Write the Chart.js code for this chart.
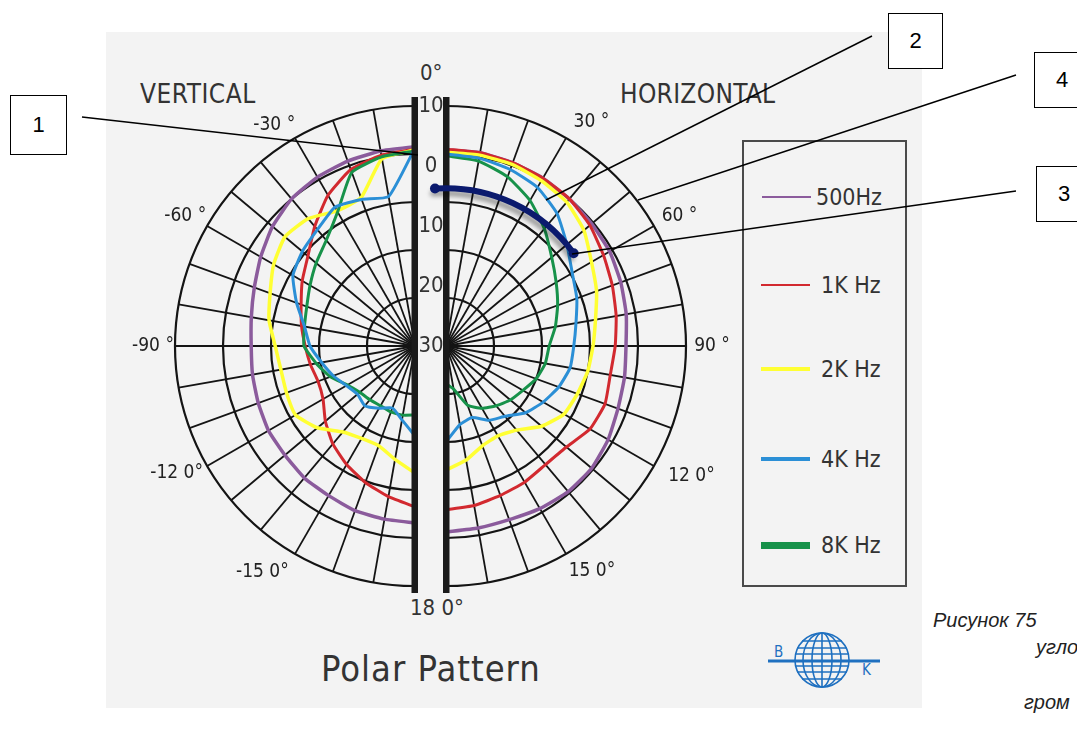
<!DOCTYPE html>
<html>
<head>
<meta charset="utf-8">
<script src="https://cdn.jsdelivr.net/npm/chart.js@4.4.1/dist/chart.umd.min.js"></script>
<style>
  body { margin: 0; width: 1077px; height: 731px; position: relative; overflow: hidden; background: #fff;
         font-family: 'Liberation Sans Narrow', 'DejaVu Sans Condensed', 'Arial Narrow', sans-serif; color: #333; }
  #panel { position: absolute; left: 106px; top: 32px; width: 816px; height: 676px; background: #f3f3f3; }
  .half { position: absolute; top: 0; height: 731px; overflow: hidden; }
  #leftHalf { left: 0; width: 418px; }
  #rightHalf { left: 443px; width: 634px; }
  .half canvas { position: absolute; top: 96px; }
  #overlay { position: absolute; left: 0; top: 0; pointer-events: none; }
  .txt { position: absolute; white-space: nowrap; line-height: 1; }
  .box { position: absolute; background: #fff; border: 1px solid #000; font-family: 'Liberation Sans', Arial, sans-serif;
         font-size: 22px; color: #000; display: flex; align-items: center; justify-content: center; box-sizing: border-box; }
  #legend { position: absolute; left: 742px; top: 140px; width: 165px; height: 447px; border: 2px solid #4a4a4a; box-sizing: border-box; }
  .caption { position: absolute; white-space: nowrap; font-family: 'Liberation Sans', Arial, sans-serif; font-style: italic; font-size: 20px; color: #222; }
</style>
</head>
<body>
<div id="panel"></div>

<div class="txt" style="left:140px; top:81px; font-size:26px; letter-spacing:0.5px;">VERTICAL</div>
<div class="txt" style="left:620px; top:81px; font-size:26px; letter-spacing:0.3px;">HORIZONTAL</div>
<div class="txt" style="left:420px; top:62px; font-size:22px;">0°</div>
<div class="txt" style="left:410px; top:597px; font-size:22px;">18 0°</div>
<div class="txt" style="left:321px; top:651px; font-size:36px; letter-spacing:1px;">Polar Pattern</div>

<div class="half" id="leftHalf"><canvas id="vertChart" width="500" height="500" style="left:165px"></canvas></div>
<div class="half" id="rightHalf"><canvas id="horzChart" width="500" height="500" style="left:-247px"></canvas></div>

<div id="legend"></div>

<svg style="position:absolute; left:764px; top:626px" width="122" height="70">
  <g stroke="#1f70c0" fill="none" stroke-width="1.6">
    <circle cx="58" cy="34" r="27"/>
    <ellipse cx="58" cy="34" rx="19" ry="27"/>
    <ellipse cx="58" cy="34" rx="10" ry="27"/>
    <line x1="58" y1="7" x2="58" y2="61"/>
    <line x1="38" y1="15" x2="78" y2="15"/>
    <line x1="33" y1="22" x2="83" y2="22"/>
    <line x1="31" y1="28" x2="85" y2="28"/>
    <line x1="31" y1="40" x2="85" y2="40"/>
    <line x1="33" y1="46" x2="83" y2="46"/>
    <line x1="38" y1="53" x2="78" y2="53"/>
    <line x1="4" y1="35" x2="116" y2="35" stroke-width="3"/>
  </g>
  <text x="10" y="31" fill="#1f70c0" font-family="DejaVu Sans Condensed, sans-serif" font-size="15">B</text>
  <text x="98" y="49" fill="#1f70c0" font-family="DejaVu Sans Condensed, sans-serif" font-size="15">K</text>
</svg>

<div class="box" style="left:10px; top:95px; width:57px; height:60px;">1</div>
<div class="box" style="left:888px; top:13px; width:55px; height:56px;">2</div>
<div class="box" style="left:1034px; top:52px; width:56px; height:56px;">4</div>
<div class="box" style="left:1036px; top:166px; width:56px; height:56px;">3</div>

<div class="caption" style="left:933px; top:609px;">Рисунок 75</div>
<div class="caption" style="left:1036px; top:636px;">угло</div>
<div class="caption" style="left:1024px; top:691px;">гром</div>

<canvas id="overlay" width="1077" height="731"></canvas>

<script>
// response angles, degrees from the front axis (0° up, 180° down)
const angles = [0, 10, 20, 30, 40, 50, 60, 70, 80, 90, 100, 110, 120, 130, 140, 150, 160, 170, 180];

const seriesNames = ['500Hz', '1K Hz', '2K Hz', '4K Hz', '8K Hz'];
const seriesColors = ['#8b5b9c', '#d2292f', '#ffff33', '#2b8fd6', '#17924a'];

// relative level in dB, horizontal plane (right half)
const horz500 = [2.7, 2.7, 2.5, 2.3, 2.0, 1.7, 1.5, 1.0, 0.5, 0.0, 0.2, 0.5, 1.2, 1.7, 1.7, 1.3, 0.8, 0.8, 1.0];
const horz1k  = [2.8, 2.7, 2.5, 2.3, 2.0, 1.3, 0.3, -0.5, -1.2, -1.8, -2.2, -1.8, -2.3, -3.8, -4.2, -3.8, -3.5, -3.0, -2.7];
const horz2k  = [2.3, 2.3, 2.2, 1.8, 1.3, 0.0, -2.0, -3.3, -4.7, -5.5, -6.0, -6.7, -7.3, -9.2, -11.7, -12.7, -12.3, -10.7, -9.3];
const horz4k  = [2.0, 1.8, 1.3, 0.5, -1.2, -3.7, -5.7, -6.8, -8.0, -8.7, -9.0, -10.0, -11.3, -12.7, -14.7, -15.7, -17.3, -16.7, -14.0];
const horz8k  = [1.7, 1.3, 0.0, -2.0, -4.5, -7.0, -8.8, -10.2, -11.5, -12.8, -13.2, -14.0, -15.2, -16.0, -17.0, -18.0, -19.5, -22.7, -23.7];

// relative level in dB, vertical plane (left half)
const vert500 = [3.2, 3.0, 2.8, 2.5, 2.0, 1.0, -0.3, -1.5, -2.3, -2.7, -2.5, -2.2, -1.8, -1.7, -1.3, -1.2, -0.8, -0.7, -0.5];
const vert1k  = [2.8, 2.3, 1.3, -1.0, -4.0, -6.7, -8.3, -9.8, -10.8, -11.7, -12.3, -12.8, -12.3, -10.5, -8.7, -7.2, -5.8, -4.5, -3.2];
const vert2k  = [2.7, 1.7, -3.7, -4.0, -2.3, -1.7, -2.8, -4.3, -5.3, -6.7, -7.3, -7.2, -7.0, -8.8, -11.3, -12.2, -12.3, -10.8, -8.8];
const vert4k  = [3.0, -4.7, -4.0, -3.3, -4.7, -5.5, -6.5, -9.0, -11.3, -12.5, -14.2, -15.5, -16.8, -17.5, -17.0, -18.0, -19.0, -17.5, -15.0];
const vert8k  = [2.5, 2.0, 0.8, -4.2, -7.0, -8.5, -9.8, -10.8, -11.3, -11.5, -13.3, -15.0, -17.0, -18.0, -18.3, -18.5, -18.3, -18.3, -18.5];

// printed scale down the middle, and the drawn rings
const scaleLabels = [10, 0, -10, -20, -30];
const ringLevels = [-22, -14, -6, 2, 10];

// marker arc (level in dB, from/to angle in degrees)
const markerLevel = -3.7;
const markerFrom = -4;
const markerTo = 54;

const vertAngleLabels = ['-30 °', '-60 °', '-90 °', '-12 0°', '-15 0°'];
const horzAngleLabels = ['30 °', '60 °', '90 °', '12 0°', '15 0°'];
// [angle, distance from centre] for each angle label
const vertLabelSpots = [[32.5, 262], [60.5, 264], [90, 262], [118, 270], [146, 273]];
const horzLabelSpots = [[33, 267], [61, 267], [90, 266], [118, 278], [147, 268]];

const lineWidths = [3.5, 3, 3.5, 3, 3];
const drawOrder = [5, 4, 3, 1, 2];

const spokes = Array.from({ length: 36 }, (_, i) => i * 10 + '°');

// right half: 0..180 clockwise
function rightSlots(vals) {
  const d = new Array(36).fill(null);
  vals.forEach((v, k) => { d[k] = v; });
  return d;
}
// left half: 0 and 360-10k going anticlockwise
function leftSlots(vals) {
  const d = new Array(36).fill(null);
  vals.forEach((v, k) => { d[(36 - k) % 36] = v; });
  return d;
}

const centerBar = {
  id: 'centerBar',
  afterDraw(chart) {
    const s = chart.scales.r;
    const ctx = chart.ctx;
    ctx.save();
    ctx.fillStyle = '#1a1a1a';
    ctx.fillRect(s.xCenter - 3.5, s.yCenter - 249, 7, 496);
    ctx.restore();
  }
};

function makeHalf(id, set, toSlots) {
  return new Chart(document.getElementById(id), {
    type: 'radar',
    data: {
      labels: spokes,
      datasets: set.map((vals, i) => ({
        label: seriesNames[i],
        data: toSlots(vals),
        borderColor: seriesColors[i],
        borderWidth: lineWidths[i],
        order: drawOrder[i],
        pointRadius: 0,
        fill: false,
        tension: 0.15,
        spanGaps: false
      }))
    },
    options: {
      responsive: false,
      animation: false,
      layout: { padding: 10 },
      plugins: { legend: { display: false }, tooltip: { enabled: false } },
      scales: {
        r: {
          min: -30,
          max: 10,
          afterBuildTicks: function (scale) {
            scale.ticks = ringLevels.map(v => ({ value: v }));
          },
          ticks: { display: false },
          pointLabels: { display: false },
          grid: { circular: true, color: '#141414', lineWidth: 2.2 },
          angleLines: { color: '#141414', lineWidth: 1.8 }
        }
      }
    },
    plugins: [centerBar]
  });
}

const vertChart = makeHalf('vertChart', [vert500, vert1k, vert2k, vert4k, vert8k], leftSlots);
const horzChart = makeHalf('horzChart', [horz500, horz1k, horz2k, horz4k, horz8k], rightSlots);

// legend
const legendY = [55, 143, 227, 317, 403];
const legendW = [2, 2, 4, 4, 7];
const legendX = [72, 77, 77, 77, 77];
const legend = document.getElementById('legend');
seriesNames.forEach((name, i) => {
  const ln = document.createElement('div');
  ln.style.cssText = `position:absolute; left:${i === 0 ? 18 : 17}px; top:${legendY[i] - legendW[i] / 2}px; width:49px; height:${legendW[i]}px; background:${seriesColors[i]}`;
  legend.appendChild(ln);
  const tx = document.createElement('div');
  tx.className = 'txt';
  tx.style.cssText = `left:${legendX[i]}px; top:${legendY[i] - 11}px; font-size:23px; color:#333`;
  tx.textContent = name;
  legend.appendChild(tx);
});

// scale numbers, angle labels, marker arc and leader lines
const ov = document.getElementById('overlay').getContext('2d');
const vs = vertChart.scales.r, hs = horzChart.scales.r;
const vc = { x: 165 + vs.xCenter, y: 96 + vs.yCenter };
const hc = { x: 196 + hs.xCenter, y: 96 + hs.yCenter };
const rad = d => (d - 90) * Math.PI / 180;

ov.fillStyle = '#333';
ov.textAlign = 'center';
ov.textBaseline = 'middle';
ov.font = "22px 'Liberation Sans Narrow', 'DejaVu Sans Condensed', sans-serif";
scaleLabels.forEach(v => {
  ov.fillText(String(Math.abs(v)), (vc.x + hc.x) / 2 + 0.5, hc.y - hs.getDistanceFromCenterForValue(v));
});

ov.fillStyle = '#222';
ov.font = "19px 'Liberation Sans Narrow', 'DejaVu Sans Condensed', sans-serif";
vertLabelSpots.forEach(([a, r], i) => {
  ov.fillText(vertAngleLabels[i], vc.x + r * Math.cos(rad(-a)), vc.y + r * Math.sin(rad(-a)));
});
horzLabelSpots.forEach(([a, r], i) => {
  ov.fillText(horzAngleLabels[i], hc.x + r * Math.cos(rad(a)), hc.y + r * Math.sin(rad(a)));
});

const mr = hs.getDistanceFromCenterForValue(markerLevel);
ov.save();
ov.strokeStyle = '#0b1a6e';
ov.fillStyle = '#0b1a6e';
ov.lineWidth = 6;
ov.lineCap = 'round';
ov.shadowColor = 'rgba(0,0,0,0.35)';
ov.shadowBlur = 4;
ov.shadowOffsetX = -2;
ov.shadowOffsetY = 5;
ov.beginPath();
ov.arc(hc.x, hc.y, mr, rad(markerFrom), rad(markerTo));
ov.stroke();
ov.shadowColor = 'transparent';
[markerFrom, markerTo].forEach(a => {
  ov.beginPath();
  ov.arc(hc.x + mr * Math.cos(rad(a)), hc.y + mr * Math.sin(rad(a)), 5, 0, Math.PI * 2);
  ov.fill();
});
ov.restore();

const leaders = [[82, 117, 418, 155], [872, 36, 546, 200], [1016, 75, 638, 200], [1016, 191, 572, 254]];
ov.strokeStyle = '#000';
ov.lineWidth = 1.4;
leaders.forEach(([x1, y1, x2, y2]) => {
  ov.beginPath();
  ov.moveTo(x1, y1);
  ov.lineTo(x2, y2);
  ov.stroke();
});
</script>
</body>
</html>
